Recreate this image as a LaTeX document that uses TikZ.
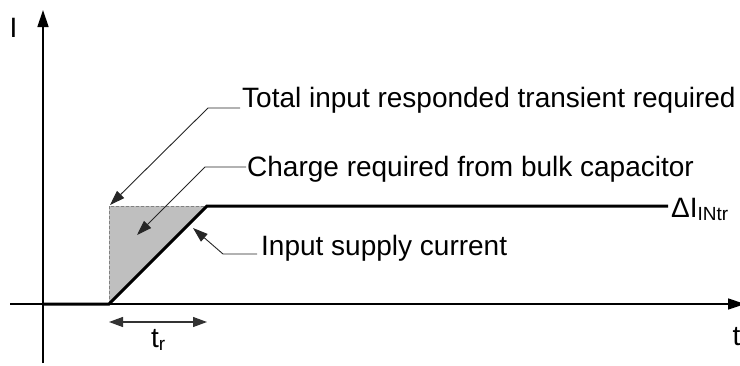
\documentclass[tikz,border=0pt]{standalone}
\usepackage{fontspec}
\setmainfont{Liberation Sans}
\usetikzlibrary{arrows.meta}
\newcommand{\subtxt}[1]{\raisebox{-3.5pt}{\fontsize{19}{21}\selectfont #1}}
\begin{document}
\begin{tikzpicture}[x=1pt,y=-1pt,
  axis/.style={line width=1.4pt, -{Triangle[length=17pt,width=11pt]}},
  curve/.style={line width=3pt, line join=miter},
  leader/.style={line width=0.9pt, black!85, -{Triangle[length=15pt,width=10pt]}},
  lbl/.style={anchor=base west, inner sep=0pt, font=\fontsize{28}{33}\selectfont},
]
\useasboundingbox (0,0) rectangle (740,365);
% key points
\coordinate (O) at (43,304);
\coordinate (K) at (109,304);
\coordinate (R) at (207,206);
\coordinate (D) at (109,206);
\coordinate (E) at (668,206);
% shaded charge area
\fill[black!25] (K) -- (D) -- (R) -- cycle;
\draw[gray, dash pattern=on 3pt off 2pt, line width=1pt] (K) -- (D) -- (R);
% axes
\coordinate (yb) at (43,363);
\coordinate (yt) at (43,10);
\coordinate (xl) at (10,304);
\coordinate (xr) at (745,304);
\draw[axis] (yb) -- (yt);
\draw[axis] (xl) -- (xr);
% current curve
\draw[curve] (O) -- (K) -- (R) -- (E);
% labels
\node[lbl] (ylab) at (9.5,37) {I};
\node[lbl] (xlab) at (732.5,345) {t};
\node[lbl] (tot) at (242,107) {Total input responded transient required};
\node[lbl] (chg) at (247,176) {Charge required from bulk capacitor};
\node[lbl] (inp) at (261,255) {Input supply current};
\node[lbl] (dI) at (671,217) {ΔI\subtxt{INtr}};
\node[lbl] (tr) at (151,347) {t\subtxt{r}};
% leaders
\coordinate (t0) at (240,108);
\coordinate (t1) at (208,108);
\coordinate (t2) at (110,205);
\draw[leader] (t0) -- (t1) -- (t2);
\coordinate (c0) at (246,167);
\coordinate (c1) at (205,167);
\coordinate (c2) at (137,235);
\draw[leader] (c0) -- (c1) -- (c2);
\coordinate (i0) at (257,254);
\coordinate (i1) at (223,254);
\coordinate (i2) at (193,228);
\draw[leader] (i0) -- (i1) -- (i2);
% rise time arrow
\coordinate (r0) at (109,322);
\coordinate (r1) at (207,322);
\draw[line width=1.2pt, black!80, {Triangle[length=14pt,width=10pt]}-{Triangle[length=14pt,width=10pt]}] (r0) -- (r1);
\end{tikzpicture}
\end{document}
